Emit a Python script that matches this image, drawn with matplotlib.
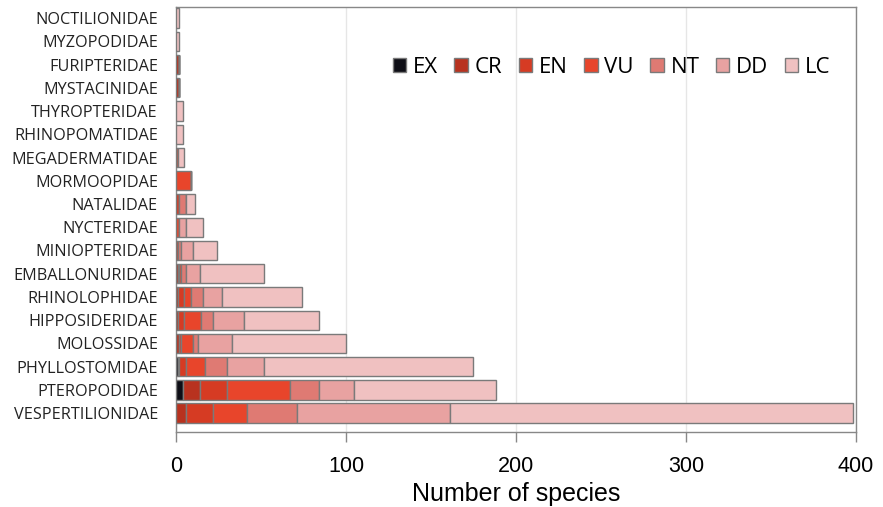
import matplotlib
matplotlib.use('Agg')
import matplotlib.pyplot as plt
import numpy as np

# families, top to bottom
families = ['NOCTILIONIDAE', 'MYZOPODIDAE', 'FURIPTERIDAE', 'MYSTACINIDAE',
            'THYROPTERIDAE', 'RHINOPOMATIDAE', 'MEGADERMATIDAE', 'MORMOOPIDAE',
            'NATALIDAE', 'NYCTERIDAE', 'MINIOPTERIDAE', 'EMBALLONURIDAE',
            'RHINOLOPHIDAE', 'HIPPOSIDERIDAE', 'MOLOSSIDAE', 'PHYLLOSTOMIDAE',
            'PTEROPODIDAE', 'VESPERTILIONIDAE']

EX = [0, 0, 0, 0, 0, 0, 0, 0, 0, 0, 0, 0, 0, 0, 0, 1, 4, 0]
CR = [0, 0, 2, 2, 0, 0, 0, 0, 0, 0, 0, 1, 1, 1, 2, 1, 10, 6]
EN = [0, 0, 0, 0, 0, 0, 0, 0, 2, 0, 1, 1, 4, 4, 1, 4, 16, 16]
VU = [0, 0, 0, 0, 0, 0, 1, 9, 0, 2, 0, 1, 4, 10, 7, 11, 37, 20]
NT = [0, 0, 0, 0, 0, 0, 0, 0, 4, 0, 2, 3, 7, 7, 3, 13, 17, 29]
DD = [0, 0, 0, 0, 0, 0, 0, 0, 0, 4, 7, 8, 11, 18, 20, 22, 21, 90]
LC = [2, 2, 0, 0, 4, 4, 4, 0, 5, 10, 14, 38, 47, 44, 67, 123, 83, 237]

status = ['EX', 'CR', 'EN', 'VU', 'NT', 'DD', 'LC']
values = [EX, CR, EN, VU, NT, DD, LC]
colors = ['#0e0e16', '#b8321f', '#d63b23', '#e8452b', '#df7a73', '#e8a2a1', '#f0c1c1']

fig = plt.figure(figsize=(8.83, 5.07), dpi=100)
ax = fig.add_axes([0.1993, 0.148, 0.7701, 0.838])

y = np.arange(len(families))
left = np.zeros(len(families))
for name, vals, col in zip(status, values, colors):
    vals = np.array(vals, dtype=float)
    ax.barh(y, vals, left=left, height=0.83, color=col, edgecolor='#7a7a7a',
            linewidth=1.0, label=name, zorder=3)
    left += vals

ax.set_ylim(17.81, -0.473)
ax.set_xlim(0, 400)
ax.set_xticks([0, 100, 200, 300, 400])
ax.set_yticks(y)
ax.set_yticklabels(families, fontfamily='Open Sans', fontsize=11.7, color='#222222')
ax.tick_params(axis='y', length=0, pad=13)
ax.tick_params(axis='x', length=7, width=1, color='#888888', labelsize=15.5, pad=10)
for lab in ax.get_xticklabels():
    lab.set_fontfamily('Liberation Sans')
ax.set_xlabel('Number of species', fontfamily='Liberation Sans', fontsize=18, labelpad=4)

ax.grid(axis='x', color='#e6e6e6', linewidth=1, zorder=0)
for s in ax.spines.values():
    s.set_color('#888888')
    s.set_linewidth(1.0)

leg = ax.legend(loc='upper right', bbox_to_anchor=(0.992, 0.93), ncol=7, frameon=False,
                prop={'family': 'Open Sans', 'size': 16}, handlelength=0.6,
                handleheight=0.6, handletextpad=0.3, columnspacing=0.75)

fig.savefig('out.png', dpi=100)
